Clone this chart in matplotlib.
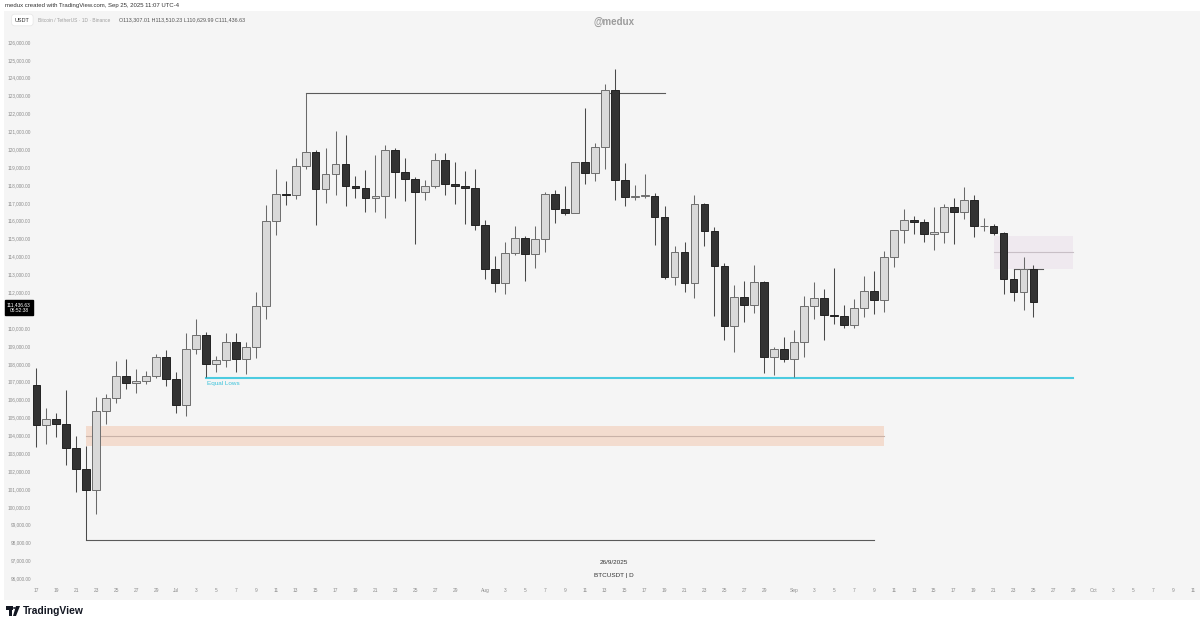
import numpy as np
import pandas as pd
import matplotlib
matplotlib.use("Agg")
import matplotlib.pyplot as plt
from matplotlib.patches import Rectangle, Circle, Polygon

# --- data: BTCUSDT daily, Jun 17 .. Sep 25 2025 ---
dates = pd.date_range("2025-06-17", "2025-09-25", freq="D")

opens = [106794, 104551, 104886, 104658, 103297, 102120, 100963, 105333, 106083, 107340,
         106947, 107047, 107297, 108356, 107135, 105681, 108849, 109584, 107984, 108198,
         109203, 108262, 108922, 111233, 115987, 117516, 117435, 119086, 119841, 117758,
         118630, 119177, 117924, 117840, 117265, 117380, 119954, 118755, 118340, 117614,
         117919, 119415, 118062, 117950, 117840, 115764, 113297, 112546, 114208, 115055,
         114129, 114992, 117472, 116674, 116462, 119294, 118686, 120134, 123306, 118295,
         117342, 117381, 117405, 116227, 112872, 114271, 112500, 116935, 115438, 113493,
         110111, 111763, 111262, 112566, 108377, 108817, 108246, 109237, 111240, 111705,
         110730, 110660, 110187, 111137, 112065, 111546, 113960, 115482, 116029, 115950,
         115269, 115349, 116788, 116468, 117137, 115688, 115721, 115306, 112748, 112014,
         113307]
highs = [107771, 105550, 105250, 106524, 103950, 103400, 106128, 106290, 108135, 108272,
         107735, 107600, 108528, 108789, 107540, 109730, 110529, 109767, 108420, 109700,
         109700, 109216, 111999, 116868, 118869, 118200, 119488, 123150, 119940, 120063,
         120998, 120820, 118499, 118856, 119676, 120247, 120090, 119535, 118451, 118297,
         119766, 119800, 119273, 118792, 118922, 116052, 114036, 114800, 115720, 115127,
         115716, 117631, 117700, 117944, 119311, 122335, 120324, 123667, 124474, 119216,
         117999, 118600, 117543, 116800, 114616, 114821, 117429, 117000, 115666, 113650,
         112380, 112625, 113500, 112650, 108950, 109480, 109912, 111771, 112575, 112206,
         113384, 111307, 111600, 112924, 113200, 114313, 115488, 116665, 116250, 116100,
         116781, 116964, 117286, 117900, 117455, 116150, 115840, 115386, 113288, 113980,
         113510]
lows = [103371, 103500, 103910, 102345, 100837, 98170, 99613, 104622, 105808, 106595,
        106356, 106843, 107209, 106733, 105250, 105100, 108530, 107245, 107517, 107800,
        107513, 107429, 108324, 110500, 115222, 116900, 117224, 118905, 115736, 117017,
        117453, 116812, 117277, 116467, 116515, 116128, 117301, 117103, 114723, 117165,
        117841, 117427, 116950, 115800, 115500, 112722, 112000, 111920, 114107, 112650,
        113356, 114259, 115880, 116300, 116460, 118050, 118207, 118920, 117180, 116803,
        117172, 117273, 114640, 112744, 112380, 112000, 111684, 114600, 110680, 109329,
        108666, 110345, 110862, 107463, 107350, 108076, 107255, 108393, 110528, 109330,
        110206, 110000, 110000, 110621, 110773, 110917, 113430, 114740, 115244, 114800,
        114384, 114737, 114720, 116092, 115100, 115400, 115216, 111900, 111500, 111000,
        110629]
closes = [104551, 104886, 104658, 103297, 102120, 100963, 105333, 106083, 107340, 106947,
          107047, 107297, 108356, 107135, 105681, 108849, 109584, 107984, 108198, 109203,
          108262, 108922, 111233, 115987, 117516, 117435, 119086, 119841, 117758, 118630,
          119177, 117924, 117840, 117265, 117380, 119954, 118755, 118340, 117614, 117919,
          119415, 118062, 117950, 117840, 115764, 113297, 112546, 114208, 115055, 114129,
          114992, 117472, 116674, 116462, 119294, 118686, 120134, 123306, 118295, 117342,
          117381, 117405, 116227, 112872, 114271, 112500, 116935, 115438, 113493, 110111,
          111763, 111262, 112566, 108377, 108817, 108246, 109237, 111240, 111705, 110730,
          110660, 110187, 111137, 112065, 111546, 113960, 115482, 116029, 115950, 115269,
          115349, 116788, 116468, 117137, 115688, 115721, 115306, 112748, 112014, 113307,
          111436.63]

# drawings (levels and day ranges, as candle indices from Jun 17)
top_line = (27, 63, 123150)
bottom_line = (5, 84, 98170)
equal_lows = (17, 104, 107230)
orange_zone = (5, 85, 103400, 104540, 103970)
purple_zone = (96, 104, 113300, 115150, 114250)
short_line = (98, 101, 113300)

y_ticks = list(range(96000, 127000, 1000))
# 111,000 sits under the last-price box, hidden like in the screenshot
y_labels = ["" if v == 111000 else f"{v:,}.00" for v in y_ticks]

axis_days = pd.date_range("2025-06-17", "2025-10-11", freq="D")
x_ticks, x_labels = [], []
for k, d in enumerate(axis_days):
    if d.day == 1:
        x_ticks.append(k)
        x_labels.append(d.strftime("%b"))
    elif d.day % 2 == 1 and d.day < 30:
        x_ticks.append(k)
        x_labels.append(str(d.day))

plt.rcParams["font.family"] = ["Liberation Sans", "DejaVu Sans"]

W, H = 1200, 625
fig = plt.figure(figsize=(12, 6.25), dpi=100)
fig.patch.set_facecolor("white")


def fx(px):
    return px / W


def fy(py):
    return 1 - py / H


ax = fig.add_axes([fx(4), 25 / H, 1196 / W, 589 / H])
ax.set_facecolor("#f5f5f5")
for s in ax.spines.values():
    s.set_visible(False)

idx = np.arange(len(dates))
o = np.array(opens, float)
h = np.array(highs, float)
l = np.array(lows, float)
c = np.array(closes, float)
up = c >= o

# zones
z0, z1, zb, zt, zm = orange_zone
ax.add_patch(Rectangle((z0, zb), z1 - z0, zt - zb, facecolor="#f3dccf", edgecolor="none", zorder=1))
ax.plot([z0, z1], [zm, zm], color="#c9b2a8", lw=0.8, zorder=1.5)
p0, p1, pb, pt, pm = purple_zone
ax.add_patch(Rectangle((p0, pb), p1 - p0, pt - pb, facecolor="#efe9ef", edgecolor="none", zorder=1))
ax.plot([p0, p1], [pm, pm], color="#c8bfc6", lw=0.8, zorder=1.5)

# lines
for a, b, v in (top_line, bottom_line, short_line):
    ax.plot([a, b], [v, v], color="#5a5a5a", lw=0.8, zorder=2)
ax.plot([equal_lows[0], equal_lows[1]], [equal_lows[2]] * 2, color="#4ccbe0", lw=1.5, zorder=2)
ax.annotate("Equal Lows", (equal_lows[0], equal_lows[2]), xytext=(0.5, -2.5),
            textcoords="offset points", ha="left", va="top", fontsize=4.6, color="#3cc3db")

# candles
ax.vlines(idx[up], l[up], h[up], color="#6a6a6a", lw=0.75, zorder=3)
ax.vlines(idx[~up], l[~up], h[~up], color="#4a4a4a", lw=0.75, zorder=3)
body = np.maximum(np.abs(c - o), 40)
bot = np.minimum(o, c)
ax.bar(idx[up], body[up], bottom=bot[up], width=0.78, color="#d9d9d9",
       edgecolor="#6e6e6e", linewidth=0.7, zorder=4)
ax.bar(idx[~up], body[~up], bottom=bot[~up], width=0.78, color="#333333",
       edgecolor="#222222", linewidth=0.7, zorder=4)

ax.set_xlim(-3.25, 116.7)
ax.set_ylim(94787, 127734)

ax.set_yticks(y_ticks)
ax.set_yticklabels(y_labels)
ax.tick_params(axis="y", length=0, pad=-19.4, labelsize=3.4, labelcolor="#8c8c8c")
ax.set_xticks(x_ticks)
ax.set_xticklabels(x_labels)
ax.tick_params(axis="x", length=0, pad=-8.3, labelsize=3.5, labelcolor="#8c8c8c")

# last price label
ax.text(0.0125, closes[-1], f"{closes[-1]:,.2f}\n06:52:38",
        transform=ax.get_yaxis_transform(), ha="center", va="top", fontsize=3.5,
        color="white", linespacing=1.2, zorder=10,
        bbox=dict(boxstyle="square,pad=0.4", facecolor="black", edgecolor="black"))

# header texts
fig.text(fx(5), fy(6), "medux created with TradingView.com, Sep 25, 2025 11:07 UTC-4",
         fontsize=4.3, color="#333333", va="center", ha="left")
fig.text(fx(15), fy(20), "USDT", fontsize=4, color="#333333", va="center", ha="left",
         bbox=dict(boxstyle="round,pad=0.6,rounding_size=0.5", facecolor="white", edgecolor="#e6e6e6", lw=0.5))
fig.text(fx(38), fy(20), "Bitcoin / TetherUS · 1D · Binance", fontsize=3.5, color="#a0a0a0",
         va="center", ha="left")
fig.text(fx(119), fy(20), "O113,307.01 H113,510.23 L110,629.99 C111,436.63", fontsize=3.9,
         color="#555555", va="center", ha="left")
fig.text(fx(614), fy(22), "@medux", fontsize=7, color="#9c9c9c", va="center", ha="center",
         fontweight="semibold")
fig.text(fx(614), fy(563), "26/9/2025", fontsize=4.6, color="#333333", va="center", ha="center")
fig.text(fx(614), fy(575), "BTCUSDT | D", fontsize=4.6, color="#333333", va="center", ha="center")

# footer logo
fig.patches.append(Rectangle((fx(6), fy(610)), fx(7), 4 / H, transform=fig.transFigure,
                             facecolor="#131722", edgecolor="none"))
fig.patches.append(Rectangle((fx(9), fy(616)), fx(3), 10 / H, transform=fig.transFigure,
                             facecolor="#131722", edgecolor="none"))
fig.patches.append(Circle((fx(14.5), fy(608)), 1.6 / W, transform=fig.transFigure,
                          facecolor="#131722", edgecolor="none"))
fig.patches.append(Polygon([(fx(16), fy(606)), (fx(20), fy(606)), (fx(16), fy(616)), (fx(13), fy(616))],
                           closed=True, transform=fig.transFigure, facecolor="#131722", edgecolor="none"))
fig.text(fx(23), fy(611), "TradingView", fontsize=7.4, color="#131722", va="center", ha="left",
         fontweight="bold")

fig.savefig("out.png", dpi=100, facecolor="white")
